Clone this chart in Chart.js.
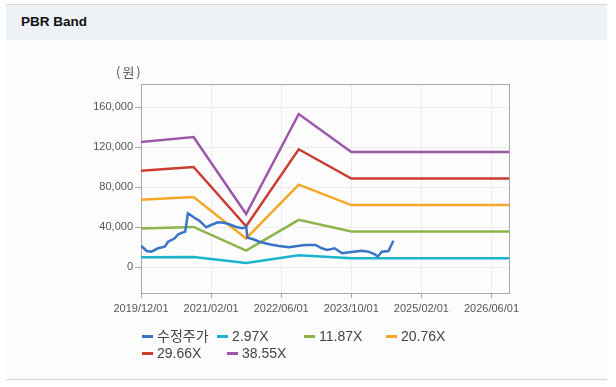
<!DOCTYPE html>
<html>
<head>
<meta charset="utf-8">
<script src="https://cdn.jsdelivr.net/npm/chart.js@4/dist/chart.umd.min.js"></script>
<style>
  html, body { margin:0; padding:0; background:#ffffff; width:616px; height:387px; overflow:hidden; }
  #wrap { position:absolute; left:6px; top:4px; width:601px; height:374px; border-top:1px solid #d6d6d6; border-bottom:1px solid #d6d6d6; background:#fcfcfc; }
  #head { position:absolute; left:0; top:0; width:601px; height:35px; background:#eef2f7; }
  #head span { position:absolute; left:15px; top:9px; font:bold 13.5px "Liberation Sans", Arial, sans-serif; color:#111; }
  #cv { position:absolute; left:0; top:0; }
  #unit { position:absolute; left:116px; top:62px; font:13px "Noto Sans CJK KR", sans-serif; color:#555; letter-spacing:2px; }
  .lg { position:absolute; font:14px "Liberation Sans", "Noto Sans CJK KR", sans-serif; color:#444; white-space:nowrap; line-height:16px; }
  .lg i { display:inline-block; width:11px; height:3px; vertical-align:middle; margin-right:4px; position:relative; top:-1px; }
</style>
</head>
<body>
<div id="wrap"><div id="head"><span>PBR Band</span></div></div>
<canvas id="cv" width="616" height="387"></canvas>
<div id="unit">(원)</div>
<div id="legend"></div>
<script>
// ---- data (x = months since 2019/12/01) ----
const xTickMonths = [0, 16, 32, 48, 64, 80];
const xTickLabels = ['2019/12/01', '2021/02/01', '2022/06/01', '2023/10/01', '2025/02/01', '2026/06/01'];
const yTickValues = [0, 40000, 80000, 120000, 160000];

const priceMonths = [0, 1.3, 2.4, 3.9, 5.4, 6.2, 7.7, 8.5, 9.6, 10.1, 10.7, 11.3, 12.2, 13.4, 14.9, 16, 17.5, 19, 20.6, 22, 23.2, 24, 24.3, 25.5, 27, 29.3, 31.5, 33.8, 35.7, 37.6, 39.8, 41.3, 42.5, 44.2, 45.9, 48, 50.4, 51.9, 53.4, 54, 55, 56.5, 56.8, 57.6];
const priceValues = [21300, 16000, 15300, 18700, 20300, 25300, 28700, 32700, 34700, 35500, 53700, 52000, 49300, 46000, 39700, 42000, 44700, 44300, 42000, 39700, 38700, 40300, 29300, 28000, 25300, 22700, 21000, 19700, 21000, 22000, 22000, 18700, 17000, 18700, 13700, 15000, 16300, 15300, 12700, 10300, 15300, 16000, 18700, 26300];

const bandMonths = [0, 12, 24, 36, 48, 84];
const band297  = [9630, 10010, 4080, 11790, 8860, 8860];
const band1187 = [38490, 40030, 16320, 47110, 35410, 35410];
const band2076 = [67320, 70000, 28550, 82400, 61930, 61930];
const band2966 = [96190, 100000, 40780, 117720, 88480, 88480];
const band3855 = [125000, 130000, 53000, 153000, 115000, 115000];

const seriesNames = ['수정주가', '2.97X', '11.87X', '20.76X', '29.66X', '38.55X'];
const seriesColors = ['#3b73c6', '#1ab4cc', '#8bb54b', '#f5a72a', '#cc3b2f', '#9b58a8'];

function pts(xs, ys) { return xs.map((x, i) => ({ x: x, y: ys[i] })); }

const datasets = [
  pts(priceMonths, priceValues),
  pts(bandMonths, band297),
  pts(bandMonths, band1187),
  pts(bandMonths, band2076),
  pts(bandMonths, band2966),
  pts(bandMonths, band3855)
].map((d, i) => ({
  label: seriesNames[i], data: d, borderColor: seriesColors[i], backgroundColor: seriesColors[i],
  borderWidth: 2.5, pointRadius: 0, tension: 0, fill: false
}));

const frame = {
  id: 'frame',
  beforeDatasetsDraw(chart) {
    const a = chart.chartArea, ctx = chart.ctx;
    ctx.save();
    ctx.strokeStyle = '#a8a8a8';
    ctx.lineWidth = 1;
    ctx.strokeRect(Math.round(a.left) + 0.5, Math.round(a.top) + 0.5, Math.round(a.right - a.left), Math.round(a.bottom - a.top));
    ctx.restore();
  }
};

new Chart(document.getElementById('cv'), {
  type: 'line',
  data: { datasets },
  plugins: [frame],
  options: {
    responsive: false, animation: false,
    layout: { padding: { left: 0, top: 84, right: 616 - 509, bottom: 387 - 293 - 30 } },
    plugins: { legend: { display: false }, tooltip: { enabled: false } },
    scales: {
      x: {
        type: 'linear', min: 0, max: 84,
        afterFit(s) { s.height = 30; },
        afterBuildTicks(s) { s.ticks = xTickMonths.map(v => ({ value: v })); },
        ticks: {
          autoSkip: false, maxRotation: 0, padding: 4,
          color: '#555', font: { family: 'Liberation Sans, Arial, sans-serif', size: 11 },
          callback(v) { const k = xTickMonths.indexOf(v); return k >= 0 ? xTickLabels[k] : ''; }
        },
        grid: { color: '#ececec', tickColor: '#a8a8a8', tickLength: 5 },
        border: { color: '#a8a8a8' }
      },
      y: {
        type: 'linear', min: -26000, max: 183000,
        afterFit(s) { s.width = 141; },
        afterBuildTicks(s) { s.ticks = yTickValues.map(v => ({ value: v })); },
        ticks: {
          padding: 2, color: '#555', font: { family: 'Liberation Sans, Arial, sans-serif', size: 11 },
          callback(v) { return v.toLocaleString('en-US'); }
        },
        grid: { color: '#ececec', tickColor: '#a8a8a8', tickLength: 6 },
        border: { color: '#a8a8a8' }
      }
    }
  }
});

// legend (HTML)
const legendPos = [[142, 328], [217, 328], [304, 328], [386, 328], [142, 345], [227, 345]];
const lg = document.getElementById('legend');
seriesNames.forEach((n, i) => {
  const d = document.createElement('div');
  d.className = 'lg';
  d.style.left = legendPos[i][0] + 'px';
  d.style.top = legendPos[i][1] + 'px';
  d.innerHTML = '<i style="background:' + seriesColors[i] + '"></i>' + n;
  lg.appendChild(d);
});
</script>
</body>
</html>
